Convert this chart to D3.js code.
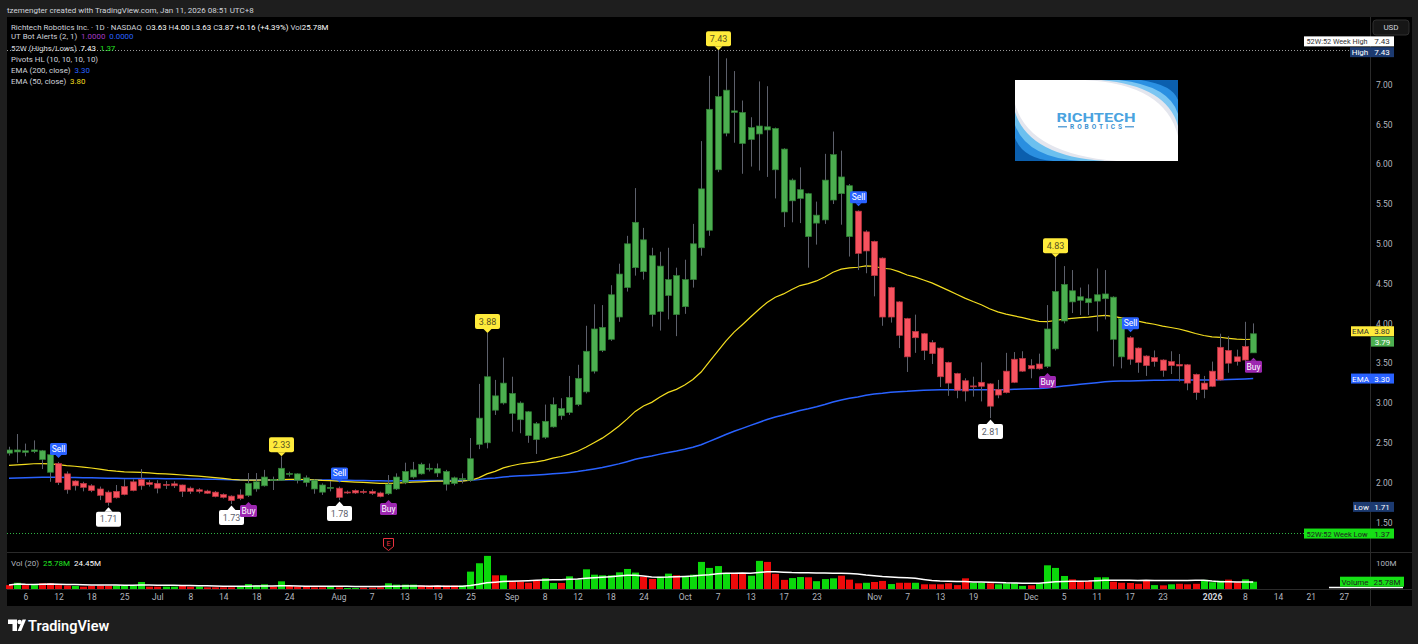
<!DOCTYPE html>
<html>
<head>
<meta charset="utf-8">
<title>Richtech Robotics 1D</title>
<script src="https://cdnjs.cloudflare.com/ajax/libs/d3/7.8.5/d3.min.js"></script>
<style>
  body { margin: 0; background: #1e1e1e; }
  svg { display: block; font-family: Roboto, "Liberation Sans", sans-serif; }
</style>
</head>
<body>
<svg id="chart" width="1418" height="644"></svg>
<script>
// trading sessions shown on the time axis (Jun 2025 .. Jan 2026)
const sessionMonths = [
  ['2025-06', [4,5,6,9,10,11,12,13,16,17,18,20,23,24,25,26,27,30]],
  ['2025-07', [1,2,3,7,8,9,10,11,14,15,16,17,18,21,22,23,24,25,28,29,30,31]],
  ['2025-08', [1,4,5,6,7,8,11,12,13,14,15,18,19,20,21,22,25,26,27,28,29]],
  ['2025-09', [2,3,4,5,8,9,10,11,12,15,16,17,18,19,22,23,24,25,26,29,30]],
  ['2025-10', [1,2,3,6,7,8,9,10,13,14,15,16,17,20,21,22,23,24,27,28,29,30,31]],
  ['2025-11', [3,4,5,6,7,10,11,12,13,14,17,18,19,20,21,24,25,26,28]],
  ['2025-12', [1,2,3,4,5,8,9,10,11,12,15,16,17,18,19,22,23,24,26,29,30,31]],
  ['2026-01', [2,5,6,7,8,9,12,13,14,15,16,20,21,22,23,26,27]]
];

// daily candles, one value per session from Jun 4 2025 to Jan 9 2026
const open = [
  2.41,2.385,2.40,2.39,2.40,2.35,2.24,2.11,1.96,1.99,
  1.96,1.92,1.88,1.81,1.85,1.90,1.96,2.00,1.99,1.965,
  1.96,1.97,1.93,1.89,1.894,1.88,1.85,1.83,1.80,1.84,
  1.92,1.96,2.04,2.03,2.115,2.11,2.06,2.03,1.97,1.932,
  1.93,1.873,1.87,1.89,1.89,1.87,1.86,1.92,2.00,2.07,
  2.23,2.18,2.175,2.14,2.06,2.04,2.03,2.48,2.50,3.09,
  3.00,3.12,3.00,2.89,2.74,2.57,2.70,2.93,2.88,2.98,
  3.14,3.40,3.66,3.80,4.08,4.45,4.70,5.05,4.85,4.15,
  4.35,4.60,4.21,4.55,4.95,5.17,5.93,6.39,6.67,6.65,
  6.31,6.38,6.47,6.45,6.19,5.54,5.57,5.63,5.26,5.30,
  5.55,5.84,5.73,5.41,4.91,5.03,4.82,4.08,4.27,4.06,
  3.82,3.87,3.76,3.69,3.51,3.37,3.28,3.21,3.21,3.24,
  3.10,3.13,3.26,3.40,3.47,3.43,3.46,3.68,4.03,4.41,
  4.335,4.31,4.28,4.31,4.33,4.06,3.82,3.69,3.59,3.52,
  3.54,3.47,3.485,3.48,3.36,3.17,3.21,3.29,3.66,3.58,
  3.54,3.63
];
const high = [
  2.45,2.61,2.49,2.53,2.41,2.37,2.26,2.14,2.03,2.01,
  1.98,1.95,1.90,1.97,2.04,2.04,2.17,2.03,2.03,2.02,
  2.016,1.975,1.95,1.93,1.91,1.895,1.865,1.84,1.915,2.12,
  2.12,2.16,2.075,2.33,2.137,2.116,2.09,2.04,1.99,2.02,
  1.95,1.90,1.915,1.915,1.915,1.886,2.095,2.116,2.25,2.26,
  2.25,2.24,2.24,2.16,2.075,2.116,2.56,3.24,3.88,3.29,
  3.57,3.33,3.02,2.90,2.76,2.98,3.07,3.06,3.34,3.48,
  3.97,4.24,4.23,4.48,4.75,5.10,5.70,5.20,4.95,4.90,
  4.95,4.70,4.80,5.25,6.29,7.11,7.43,7.33,7.17,6.80,
  6.59,7.04,6.98,6.46,6.20,5.82,5.96,5.64,5.53,6.13,
  6.41,6.17,5.75,5.42,5.17,5.04,4.83,4.46,4.28,4.07,
  4.11,3.88,3.79,3.70,3.52,3.38,3.31,3.33,3.51,3.25,
  3.29,3.63,3.64,3.65,3.55,3.62,4.23,4.83,4.72,4.67,
  4.45,4.49,4.69,4.67,4.34,4.07,3.84,3.70,3.60,3.66,
  3.55,3.65,3.615,3.49,3.37,3.34,3.52,3.87,3.84,3.67,
  4.02,4.00
];
const low = [
  2.34,2.25,2.33,2.37,2.17,2.01,1.97,1.86,1.90,1.89,
  1.88,1.78,1.71,1.80,1.84,1.89,1.91,1.95,1.865,1.92,
  1.932,1.82,1.857,1.865,1.857,1.815,1.80,1.73,1.78,1.82,
  1.886,1.95,1.907,2.02,2.075,1.99,1.95,1.86,1.845,1.89,
  1.78,1.857,1.857,1.857,1.845,1.815,1.844,1.907,1.98,2.05,
  2.10,2.14,2.07,1.90,1.965,1.99,2.01,2.42,2.43,2.85,
  2.98,2.64,2.62,2.50,2.36,2.55,2.69,2.79,2.85,2.96,
  3.12,3.37,3.64,3.78,4.02,4.40,4.60,4.55,3.96,3.91,
  4.05,3.84,4.12,4.45,4.85,5.10,5.90,6.35,6.27,5.88,
  5.97,5.92,5.84,5.57,5.21,5.27,5.26,4.70,4.99,5.25,
  5.50,5.24,4.84,4.67,4.63,4.34,3.97,4.01,3.69,3.39,
  3.63,3.54,3.49,3.20,3.09,3.06,3.02,3.08,3.02,2.81,
  3.06,3.12,3.25,3.39,3.31,3.42,3.44,3.66,4.00,4.13,
  4.105,4.105,3.90,4.05,3.46,3.435,3.48,3.38,3.34,3.456,
  3.33,3.364,3.27,3.16,3.04,3.06,3.20,3.28,3.38,3.47,
  3.50,3.63
];
const close = [
  2.37,2.41,2.38,2.41,2.29,2.13,2.00,1.91,2.02,1.94,
  1.90,1.84,1.75,1.89,1.95,2.01,2.04,1.975,1.93,1.978,
  1.985,1.89,1.89,1.91,1.866,1.825,1.815,1.775,1.845,1.99,
  2.01,2.07,2.03,2.18,2.105,2.03,2.00,1.92,1.88,1.94,
  1.815,1.882,1.90,1.882,1.865,1.825,1.98,2.07,2.14,2.16,
  2.11,2.17,2.12,1.98,1.99,2.05,2.30,2.81,3.33,2.91,
  3.25,2.87,2.79,2.59,2.54,2.77,2.98,2.84,3.07,3.31,
  3.65,3.93,3.95,4.36,4.62,5.00,5.27,4.65,4.11,4.72,
  4.55,4.11,4.55,5.00,5.69,6.69,6.85,6.93,6.65,6.26,
  6.46,6.48,6.43,5.93,5.40,5.80,5.68,5.09,5.36,5.80,
  6.12,5.63,5.09,4.88,5.15,4.60,4.08,4.45,3.85,3.58,
  3.90,3.66,3.62,3.33,3.25,3.16,3.15,3.215,3.26,2.96,
  3.17,3.40,3.55,3.56,3.43,3.49,3.93,4.40,4.49,4.27,
  4.29,4.26,4.36,4.37,3.80,3.58,3.55,3.51,3.47,3.57,
  3.41,3.52,3.465,3.25,3.13,3.25,3.40,3.70,3.50,3.52,
  3.71,3.87
];
// volume in millions of shares
const volume = [
  13.8,22,13.8,13.8,20.2,20.2,13.8,12,10.6,8.3,
  10.6,12,10.6,12,10.6,12,24.8,8.3,8.3,8.3,
  8.3,10.6,8.3,8.3,5.9,5.9,5.9,5.9,8.3,17.5,
  12,16.6,8.3,27.1,10.6,8.3,8.3,5.9,5.9,8.3,
  5.9,3.5,3.5,4.6,4.6,5.9,20.2,15.4,15.4,15.4,
  12,12,12,12,12,12,61.4,91,117,48.4,
  48.4,25.8,25.8,22,28.5,37.7,21.2,21.2,44.8,34,
  69.6,50.6,48.4,48.4,58.9,70.8,58,43.2,35.4,43.2,
  54.3,48.4,43.2,50.6,95.7,74.5,81,57,53.4,53.4,
  47,99.4,95.7,53.4,32.2,38.6,42.3,41.4,27.6,35,
  37.7,47,33.1,20.2,22,24.8,28.5,17.5,22,22,
  22,16.6,16.6,16.6,20.2,13.8,37.7,22,22,20.2,
  16.6,20.2,20.2,11,12.9,20.2,83.7,74.5,46,34,
  27.6,27.6,41.4,41.4,25.8,22,21.2,18.4,29.4,13.8,
  12.9,16.6,18.4,16.6,18.4,32.2,23.9,29.4,33.1,23.9,
  34,25.78
];

// UT Bot signals, pivots, earnings
const signalBars  = [6, 29, 40, 46, 103, 126, 136, 151];
const signalTypes = ['Sell','Buy','Sell','Buy','Sell','Buy','Sell','Buy'];
const pivotHighBars = [33, 58, 86, 127];
const pivotLowBars  = [12, 27, 40, 119];
const earningsBar = 46;

// EMA values at the left edge of the chart
const ema50Start = 2.21;
const ema200Start = 2.05;

// figures printed in the legend / on the price scale
const week52High = 7.43, week52Low = 1.37;
const lastPostPrice = 3.79;
const legendEma200 = '3.30', legendEma50 = '3.80';
const legendVolMA = '24.45M';

const priceTicks = [1.5, 2, 2.5, 3, 3.5, 4, 4.5, 5, 5.5, 6, 6.5, 7];
const xTickDates = ['2025-06-06','2025-06-12','2025-06-18','2025-06-25','2025-07-01','2025-07-08','2025-07-14','2025-07-18','2025-07-24',
  '2025-08-01','2025-08-07','2025-08-13','2025-08-19','2025-08-25','2025-09-02','2025-09-08','2025-09-12','2025-09-18','2025-09-24',
  '2025-10-01','2025-10-07','2025-10-13','2025-10-17','2025-10-23','2025-11-03','2025-11-07','2025-11-13','2025-11-19',
  '2025-12-01','2025-12-05','2025-12-11','2025-12-17','2025-12-23','2026-01-02','2026-01-08','2026-01-14','2026-01-21','2026-01-27'];
const xTickLabels = ['6','12','18','25','Jul','8','14','18','24','Aug','7','13','19','25','Sep','8','12','18','24',
  'Oct','7','13','17','23','Nov','7','13','19','Dec','5','11','17','23','2026','8','14','21','27'];

// ---------------------------------------------------------------
const sessions = sessionMonths.flatMap(([m, days]) => days.map(d => `${m}-${String(d).padStart(2, '0')}`));
const n = close.length;
const bars = d3.range(n);
const fmt = d3.format('.2f');

const col = {
  up: '#4caf50', upEdge: '#2f7d33', dn: '#f7525f', dnEdge: '#b8323d', wick: '#5d606b',
  ema50: '#f3dd1f', ema200: '#2962ff', volUp: '#0bd80b', volDn: '#ee0a0a',
  axis: '#b2b5be', sep: '#2a2a2a', text: '#d1d4dc'
};

const svg = d3.select('#chart');
const W = 1418, H = 644;
const padL = 7, axisX = 1370, padT = 17, paneBottom = 552, volBottom = 589, frameBottom = 606;

const x = d3.scaleLinear().domain([0, n - 1]).range([9, 1253.2]);
const y = d3.scaleLinear().domain([3, 7]).range([403, 84.6]);
const yv = d3.scaleLinear().domain([0, 100]).range([volBottom, 560.7]);
const px = i => Math.round(x(i));

// state of UT Bot for bar colours
let st = 'Buy';
const state = bars.map(i => {
  const k = signalBars.indexOf(i);
  if (k >= 0) st = signalTypes[k];
  return st;
});

function ema(src, len, seed) {
  const k = 2 / (len + 1);
  let e = seed;
  return src.map(v => (e = e + k * (v - e)));
}
const ema50 = ema(close, 50, ema50Start);
const ema200 = ema(close, 200, ema200Start);
const volMA = volume.map((v, i) => d3.mean(volume.slice(Math.max(0, i - 19), i + 1)));

// background
svg.append('rect').attr('width', W).attr('height', H).attr('fill', '#1e1e1e');
svg.append('rect').attr('x', padL).attr('y', padT).attr('width', 1412 - padL).attr('height', frameBottom - padT).attr('fill', '#000');

svg.append('text').attr('x', 7).attr('y', 12.5).attr('fill', col.text).attr('font-size', 8)
  .text('tzemengter created with TradingView.com, Jan 11, 2026 08:51 UTC+8');

const defs = svg.append('defs');
defs.append('clipPath').attr('id', 'clipPrice').append('rect')
  .attr('x', padL).attr('y', padT).attr('width', axisX - padL).attr('height', paneBottom - padT);
defs.append('clipPath').attr('id', 'clipLogo').append('rect').attr('width', 163).attr('height', 81);

// separators
svg.append('line').attr('x1', axisX + 0.5).attr('x2', axisX + 0.5).attr('y1', padT).attr('y2', frameBottom).attr('stroke', col.sep);
[paneBottom, volBottom].forEach(v => svg.append('line').attr('x1', padL).attr('x2', 1412)
  .attr('y1', v + 0.5).attr('y2', v + 0.5).attr('stroke', col.sep));

// 52 week lines
svg.append('line').attr('x1', padL).attr('x2', 1350).attr('y1', Math.round(y(week52High)) + 0.5).attr('y2', Math.round(y(week52High)) + 0.5)
  .attr('stroke', '#9a9a9a').attr('stroke-dasharray', '1,2');
svg.append('line').attr('x1', padL).attr('x2', 1304).attr('y1', Math.round(y(week52Low)) + 0.5).attr('y2', Math.round(y(week52Low)) + 0.5)
  .attr('stroke', '#2fb344').attr('stroke-dasharray', '1,2');

const plot = svg.append('g').attr('clip-path', 'url(#clipPrice)');

// EMAs
const line = src => d3.line().x(i => x(i)).y(i => y(src[i]))(bars);
plot.append('path').attr('d', line(ema200)).attr('fill', 'none').attr('stroke', col.ema200).attr('stroke-width', 1.5);
plot.append('path').attr('d', line(ema50)).attr('fill', 'none').attr('stroke', col.ema50).attr('stroke-width', 1.2);

// candles
plot.selectAll('line.wick').data(bars).join('line').attr('class', 'wick')
  .attr('x1', i => px(i) + 0.5).attr('x2', i => px(i) + 0.5)
  .attr('y1', i => y(high[i])).attr('y2', i => y(low[i]))
  .attr('stroke', col.wick).attr('stroke-width', 1);

plot.selectAll('rect.body').data(bars).join('rect').attr('class', 'body')
  .attr('x', i => px(i) - 2.5).attr('width', 6)
  .attr('y', i => y(Math.max(open[i], close[i])))
  .attr('height', i => Math.max(1, Math.abs(y(open[i]) - y(close[i]))))
  .attr('fill', i => state[i] === 'Buy' ? col.up : col.dn)
  .attr('stroke', i => state[i] === 'Buy' ? col.upEdge : col.dnEdge)
  .attr('stroke-width', 0.7);

// pivot labels
function pivotLabel(i, isHigh) {
  const cx = px(i) + 0.5, w = 25, h = 15;
  const val = isHigh ? high[i] : low[i];
  const yy = y(val);
  const g = svg.append('g');
  const boxTop = isHigh ? yy - 4 - h : yy + 6;
  const fill = isHigh ? '#ffeb3b' : '#ffffff';
  g.append('rect').attr('x', cx - w / 2).attr('y', boxTop).attr('width', w).attr('height', h).attr('rx', 2).attr('fill', fill);
  const tip = isHigh ? yy : yy + 1.5, base = isHigh ? boxTop + h : boxTop;
  g.append('path').attr('d', `M${cx - 4},${base}L${cx + 4},${base}L${cx},${tip}Z`).attr('fill', fill);
  g.append('text').attr('x', cx).attr('y', boxTop + h / 2 + 3.2).attr('text-anchor', 'middle')
    .attr('font-size', 9).attr('fill', isHigh ? '#5a5222' : '#5d606b').text(fmt(val));
}
pivotHighBars.forEach(i => pivotLabel(i, true));
pivotLowBars.forEach(i => pivotLabel(i, false));

// UT Bot labels
signalBars.forEach((i, k) => {
  const type = signalTypes[k];
  const cx = px(i) + 0.5, w = 17, h = 12;
  const g = svg.append('g');
  const fill = type === 'Sell' ? '#2962ff' : '#9c27b0';
  let boxTop, base, tip;
  if (type === 'Sell') { base = y(high[i]) - 7; boxTop = base - h; tip = base + 3; }
  else { boxTop = y(low[i]) + 8; base = boxTop; tip = base - 3; }
  g.append('rect').attr('x', cx - w / 2).attr('y', boxTop).attr('width', w).attr('height', h).attr('rx', 1.5).attr('fill', fill);
  g.append('path').attr('d', `M${cx - 3},${base}L${cx + 3},${base}L${cx},${tip}Z`).attr('fill', fill);
  g.append('text').attr('x', cx).attr('y', boxTop + 8.8).attr('text-anchor', 'middle')
    .attr('font-size', 8.5).attr('fill', '#ffffff').text(type);
});

// earnings marker
{
  const cx = px(earningsBar) + 0.5;
  svg.append('path').attr('d', `M${cx - 5},538.5h10v8l-5,4l-5,-4Z`).attr('fill', '#000').attr('stroke', '#e8323f').attr('stroke-width', 1);
  svg.append('text').attr('x', cx).attr('y', 546).attr('text-anchor', 'middle').attr('font-size', 7).attr('fill', '#e8323f').text('E');
}

// volume pane
svg.append('g').selectAll('rect').data(bars).join('rect')
  .attr('x', i => px(i) - 3).attr('width', 7)
  .attr('y', i => yv(volume[i])).attr('height', i => volBottom - yv(volume[i]))
  .attr('fill', i => close[i] >= open[i] ? col.volUp : col.volDn);
svg.append('path').attr('d', d3.line().x(i => x(i)).y(i => yv(volMA[i]))(bars))
  .attr('fill', 'none').attr('stroke', '#ffffff').attr('stroke-width', 1.5);
svg.append('line').attr('x1', 1329).attr('x2', 1403).attr('y1', 587.5).attr('y2', 587.5).attr('stroke', '#fff').attr('stroke-width', 1.5);

const vl = svg.append('text').attr('x', 11).attr('y', 565.5).attr('font-size', 8).attr('xml:space', 'preserve');
vl.append('tspan').attr('fill', col.axis).text('Vol (20)  ');
vl.append('tspan').attr('fill', '#22e622').text(fmt(volume[n - 1]) + 'M  ');
vl.append('tspan').attr('fill', '#ffffff').text(legendVolMA);

// axes
const yAxis = svg.append('g').attr('transform', `translate(${axisX},0)`)
  .call(d3.axisRight(y).tickValues(priceTicks).tickFormat(fmt).tickSize(0).tickPadding(6));
yAxis.select('.domain').remove();
yAxis.selectAll('text').attr('fill', col.axis).attr('font-size', 8.5).attr('font-family', 'Roboto, sans-serif');

const vAxis = svg.append('g').attr('transform', `translate(${axisX},2)`)
  .call(d3.axisRight(yv).tickValues([100]).tickFormat(d => d + 'M').tickSize(0).tickPadding(6));
vAxis.select('.domain').remove();
vAxis.selectAll('text').attr('fill', col.axis).attr('font-size', 8).attr('font-family', 'Roboto, sans-serif');

const xAxis = svg.append('g').attr('transform', `translate(0,${volBottom})`)
  .call(d3.axisBottom(x).tickValues(xTickDates.map(d => sessions.indexOf(d)))
    .tickFormat((d, k) => xTickLabels[k]).tickSize(0).tickPadding(5));
xAxis.select('.domain').remove();
xAxis.selectAll('text').attr('font-size', 8.5).attr('font-family', 'Roboto, sans-serif')
  .attr('font-weight', d => sessions[d] === '2026-01-02' ? 700 : 400)
  .attr('fill', d => sessions[d] === '2026-01-02' ? col.text : col.axis);

// price-scale tags
function tag(xl, yc, w, fill, txt, tc, fit) {
  const h = 10;
  svg.append('rect').attr('x', xl).attr('y', yc - h / 2).attr('width', w).attr('height', h).attr('fill', fill);
  const t = svg.append('text').attr('x', xl + w / 2).attr('y', yc + 3).attr('text-anchor', 'middle')
    .attr('font-size', 8).attr('fill', tc).text(txt);
  if (fit) t.attr('textLength', w - 5).attr('lengthAdjust', 'spacingAndGlyphs');
}
tag(1304, y(week52High) - 9, 66, '#ffffff', '52W:52 Week High', '#333', true);
tag(1370, y(week52High) - 9, 24, '#ffffff', fmt(week52High), '#333');
tag(1350, y(week52High) + 1.8, 20, '#1c3a70', 'High', '#fff');
tag(1370, y(week52High) + 1.8, 24, '#1c3a70', fmt(d3.max(high)), '#fff');
tag(1351, y(ema50[n - 1]) - 8, 19, '#ffeb3b', 'EMA', '#333');
tag(1370, y(ema50[n - 1]) - 8, 24, '#ffeb3b', legendEma50, '#333');
tag(1371, y(lastPostPrice) + 1.5, 23, '#4caf50', fmt(lastPostPrice), '#fff');
tag(1351, y(ema200[n - 1]), 19, '#2962ff', 'EMA', '#fff');
tag(1370, y(ema200[n - 1]), 24, '#2962ff', legendEma200, '#fff');
tag(1353, y(d3.min(low)) + 1.2, 17, '#1c3a70', 'Low', '#fff');
tag(1370, y(d3.min(low)) + 1.2, 24, '#1c3a70', fmt(d3.min(low)), '#fff');
tag(1304, y(week52Low) + 0.8, 66, '#16e016', '52W:52 Week Low', '#222', true);
tag(1370, y(week52Low) + 0.8, 24, '#16e016', fmt(week52Low), '#222');
tag(1340, 581.7, 30, '#16e016', 'Volume', '#222');
tag(1370, 581.7, 34, '#16e016', fmt(volume[n - 1]) + 'M', '#222');

// USD button
svg.append('rect').attr('x', 1373).attr('y', 20).attr('width', 36).attr('height', 15).attr('rx', 3)
  .attr('fill', '#161616').attr('stroke', '#2e2e2e');
svg.append('text').attr('x', 1391).attr('y', 30.3).attr('text-anchor', 'middle').attr('font-size', 8).attr('fill', col.text).text('USD');

// legend
const legendRows = [
  [['Richtech Robotics Inc. · 1D · NASDAQ  ', col.text], ['O', col.text], [fmt(open[n - 1]) + ' ', '#fff'], ['H', col.text], [fmt(high[n - 1]) + ' ', '#fff'],
   ['L', col.text], [fmt(low[n - 1]) + ' ', '#fff'], ['C', col.text], [fmt(close[n - 1]) + ' ', '#fff'], ['+0.16 (+4.39%) ', '#fff'], ['Vol', col.text], [fmt(volume[n - 1]) + 'M', '#fff']],
  [['UT Bot Alerts (2, 1)  ', col.text], ['1.0000  ', '#a53bc4'], ['0.0000', '#2962ff']],
  [['52W (Highs/Lows)  ', col.text], [fmt(week52High) + '  ', '#fff'], [fmt(week52Low), '#22e622']],
  [['Pivots HL (10, 10, 10, 10)', col.text]],
  [['EMA (200, close)  ', col.text], [legendEma200, '#2962ff']],
  [['EMA (50, close)  ', col.text], [legendEma50, col.ema50]]
];
const legendY = [29.5, 39, 50.5, 62, 73, 83.5];
legendRows.forEach((row, r) => {
  const t = svg.append('text').attr('x', 11).attr('y', legendY[r]).attr('font-size', 7.9)
    .attr('xml:space', 'preserve');
  row.forEach(([s, c]) => t.append('tspan').attr('fill', c).text(s));
});

// company logo overlay
{
  const g = svg.append('g').attr('transform', 'translate(1015,80)');
  g.append('rect').attr('width', 163).attr('height', 81).attr('fill', '#fff');
  const s = g.append('g').attr('clip-path', 'url(#clipLogo)');
  [
    ['M70,0Q150,4 163,56L163,0Z', '#e4e6ee'],
    ['M86,0Q152,6 163,46L163,0Z', '#7cc6f2'],
    ['M104,0Q155,6 163,34L163,0Z', '#2b90e2'],
    ['M126,0Q158,5 163,20L163,0Z', '#0b5fae'],
    ['M0,24Q14,74 102,81L0,81Z', '#e4e6ee'],
    ['M0,32Q14,76 90,81L0,81Z', '#6cc0ef'],
    ['M0,45Q12,78 66,81L0,81Z', '#2a8fe0'],
    ['M0,58Q8,79 38,81L0,81Z', '#0b5fae']
  ].forEach(([d, f]) => s.append('path').attr('d', d).attr('fill', f));
  g.append('text').attr('x', 81).attr('y', 41.5).attr('text-anchor', 'middle').attr('font-size', 13)
    .attr('font-weight', 700).attr('fill', '#4aa3df').attr('textLength', 79).attr('lengthAdjust', 'spacingAndGlyphs').text('RICHTECH');
  g.append('text').attr('x', 81).attr('y', 49).attr('text-anchor', 'middle').attr('font-size', 6.5)
    .attr('font-weight', 700).attr('fill', '#3a8fd0').attr('textLength', 52).text('ROBOTICS');
  g.append('line').attr('x1', 43).attr('x2', 52).attr('y1', 46.8).attr('y2', 46.8).attr('stroke', '#3a8fd0').attr('stroke-width', 1.2);
  g.append('line').attr('x1', 110).attr('x2', 119).attr('y1', 46.8).attr('y2', 46.8).attr('stroke', '#3a8fd0').attr('stroke-width', 1.2);
}

// TradingView mark at the bottom
{
  const g = svg.append('g').attr('fill', '#ffffff');
  g.append('path').attr('d', 'M8,619.5h9v11.5h-4.5v-7h-4.5Z');
  g.append('circle').attr('cx', 19.6).attr('cy', 622).attr('r', 2.2);
  g.append('path').attr('d', 'M22.5,619.5h3.5l-4.8,11.5h-3.6Z');
  svg.append('text').attr('x', 28).attr('y', 630.5).attr('font-size', 14.5).attr('font-weight', 600)
    .attr('fill', '#ffffff').text('TradingView');
}
</script>
</body>
</html>
